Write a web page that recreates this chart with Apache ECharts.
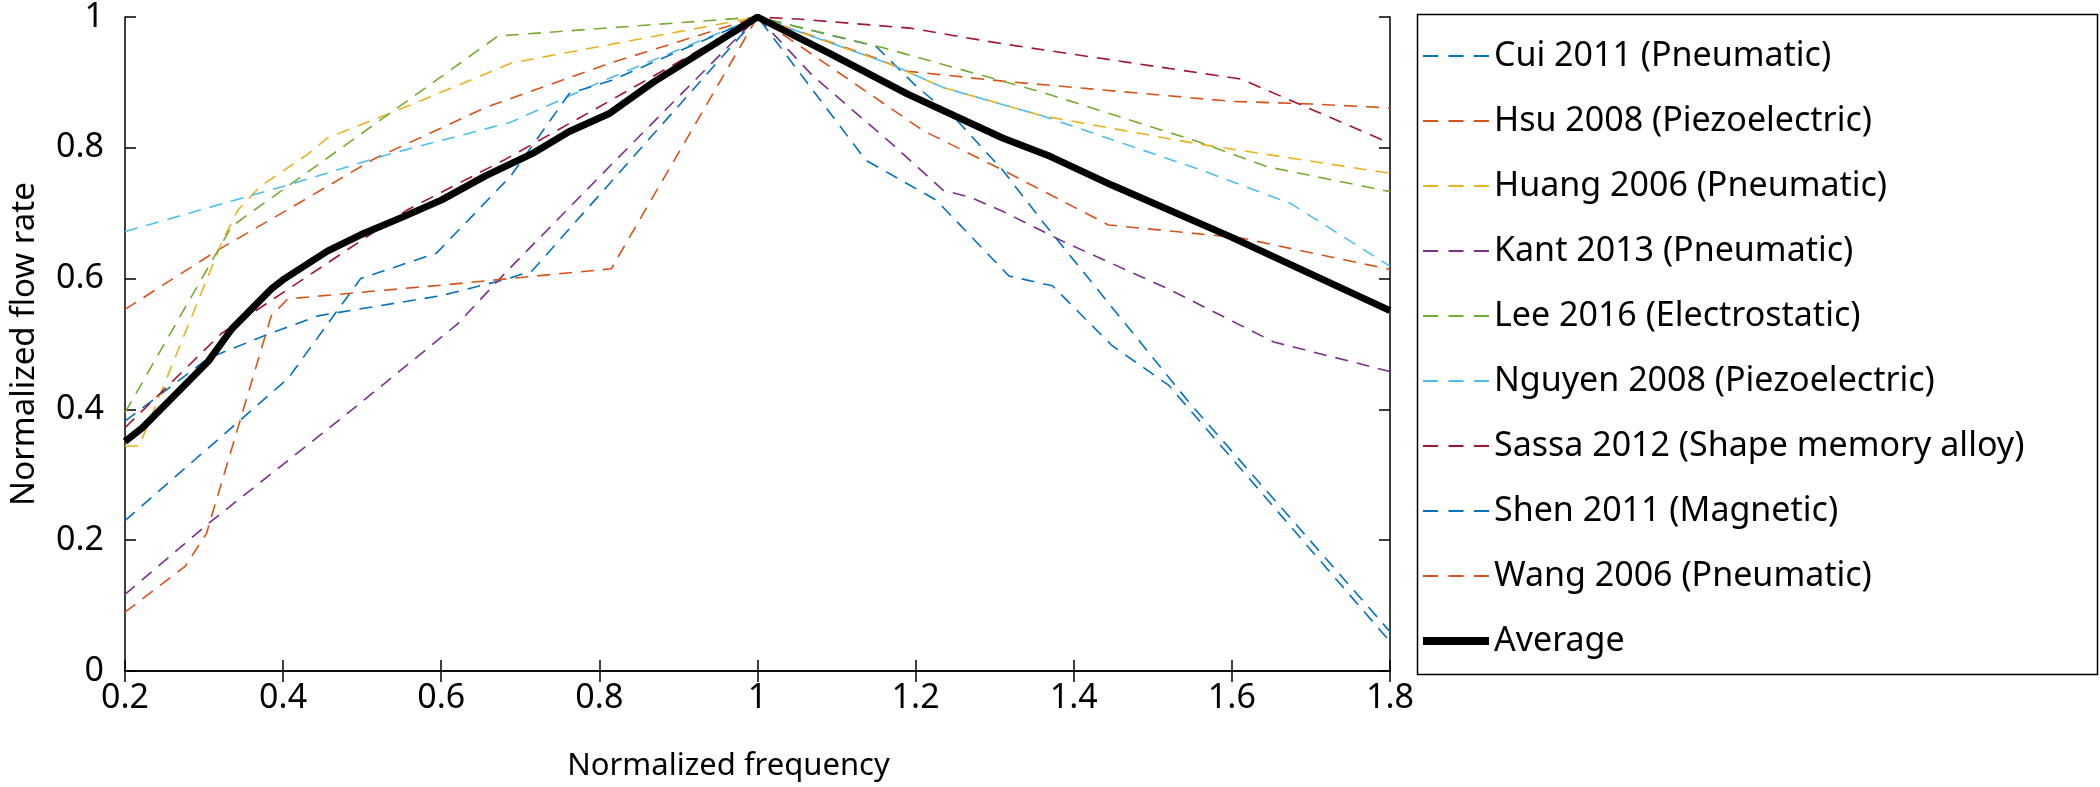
<!DOCTYPE html>
<html>
<head>
<meta charset="utf-8">
<script src="https://cdn.jsdelivr.net/npm/echarts@6/dist/echarts.min.js"></script>
<style>
html,body{margin:0;padding:0;background:#fff;}
#chart{width:2100px;height:787px;}
</style>
</head>
<body>
<div id="chart"></div>
<script>
// ---- Data ----
const seriesNames = [
  'Cui 2011 (Pneumatic)', 'Hsu 2008 (Piezoelectric)', 'Huang 2006 (Pneumatic)',
  'Kant 2013 (Pneumatic)', 'Lee 2016 (Electrostatic)', 'Nguyen 2008 (Piezoelectric)',
  'Sassa 2012 (Shape memory alloy)', 'Shen 2011 (Magnetic)', 'Wang 2006 (Pneumatic)', 'Average'
];
const cui = [[0.2,0.382],[0.305,0.478],[0.377,0.513],[0.444,0.543],[0.6,0.574],[0.682,0.599],[0.715,0.612],[1,1],
  [1.15,0.955],[1.2,0.895],[1.25,0.845],[1.31,0.766],[1.36,0.688],[1.545,0.412],[1.8,0.06]];
const hsu = [[0.2,0.553],[0.318,0.644],[0.408,0.707],[0.515,0.783],[0.657,0.862],[0.815,0.93],[1,1],
  [1.15,0.937],[1.19,0.917],[1.31,0.902],[1.6,0.871],[1.7,0.867],[1.8,0.861]];
const huang = [[0.2,0.344],[0.218,0.344],[0.324,0.66],[0.343,0.705],[0.371,0.741],[0.431,0.79],[0.456,0.815],[0.55,0.86],[0.69,0.93],[1,1],
  [1.17,0.927],[1.235,0.892],[1.36,0.849],[1.557,0.806],[1.8,0.761]];
const kant = [[0.2,0.117],[0.305,0.225],[0.493,0.405],[0.62,0.53],[0.682,0.61],[0.815,0.774],[1,1],
  [1.07,0.91],[1.17,0.806],[1.235,0.735],[1.27,0.724],[1.31,0.703],[1.386,0.657],[1.52,0.584],[1.653,0.503],[1.8,0.458]];
const lee = [[0.2,0.395],[0.335,0.68],[0.672,0.971],[1,1],
  [1.159,0.953],[1.36,0.885],[1.553,0.811],[1.645,0.771],[1.8,0.733]];
const nguyen = [[0.2,0.672],[0.406,0.743],[0.536,0.791],[0.688,0.839],[0.8,0.9],[1,1],
  [1.17,0.927],[1.235,0.892],[1.36,0.849],[1.561,0.766],[1.674,0.715],[1.8,0.619]];
const sassa = [[0.2,0.372],[0.322,0.516],[0.557,0.705],[0.682,0.783],[0.815,0.873],[1,1],
  [1.05,0.997],[1.193,0.983],[1.31,0.959],[1.612,0.905],[1.8,0.807]];
const shen = [[0.2,0.23],[0.406,0.447],[0.498,0.6],[0.594,0.639],[0.688,0.757],[0.762,0.883],[0.815,0.903],[1,1],
  [1.137,0.781],[1.226,0.72],[1.318,0.604],[1.373,0.589],[1.448,0.498],[1.52,0.437],[1.8,0.045]];
const wang = [[0.2,0.09],[0.276,0.16],[0.303,0.21],[0.385,0.543],[0.406,0.569],[0.6,0.59],[0.815,0.615],[1,1],
  [1.21,0.826],[1.31,0.766],[1.444,0.682],[1.612,0.662],[1.8,0.614]];
const average = [[0.2,0.351],[0.222,0.372],[0.305,0.473],[0.335,0.523],[0.385,0.584],[0.402,0.6],[0.456,0.642],[0.498,0.667],
  [0.551,0.694],[0.6,0.72],[0.656,0.757],[0.715,0.791],[0.762,0.825],[0.812,0.852],[0.868,0.9],[1,1],
  [1.09,0.945],[1.19,0.882],[1.31,0.815],[1.37,0.787],[1.448,0.743],[1.6,0.663],[1.8,0.551]];
const seriesData = [cui, hsu, huang, kant, lee, nguyen, sassa, shen, wang, average];
const colors = ['#0072BD','#D95319','#EDB120','#7E2F8E','#77AC30','#4DBEEE','#A2142F','#0072BD','#D95319','#000000'];
const xTitle = 'Normalized frequency';
const yTitle = 'Normalized flow rate';

// ---- Chart ----
const FONT = 'Noto Sans';
const chart = echarts.init(document.getElementById('chart'), null, {renderer:'canvas'});
const fmt = v => String(+v.toFixed(1));
const axisLineStyle = {lineStyle:{color:'#000', width:1.5}};
const tickStyle = {show:true, inside:true, length:11, lineStyle:{color:'#000', width:1.5}};
const DASH_ICON = 'path://M0,0h15v2h-15z M25.5,0h15v2h-15z M51,0h15v2h-15z';
const SOLID_ICON = 'path://M0,0h66v8h-66z';

const series = seriesData.map((d, i) => {
  const avg = seriesNames[i] === 'Average';
  return {
    name: seriesNames[i],
    type: 'line',
    data: d,
    showSymbol: false,
    symbol: 'none',
    smooth: false,
    silent: true,
    z: avg ? 10 : 2,
    lineStyle: avg ? {color:'#000', width:7, type:'solid'} : {color: colors[i], width:1.6, type:[13,9]},
    itemStyle: {color: colors[i]}
  };
});

chart.setOption({
  animation: false,
  backgroundColor: '#fff',
  grid: {left:116, right:710, top:12, bottom:115},
  xAxis: [
    {type:'value', min:0.2, max:1.8, interval:0.2, position:'bottom',
     axisLine:axisLineStyle, axisTick:tickStyle, splitLine:{show:false},
     axisLabel:{formatter:fmt, fontFamily:FONT, fontSize:34, color:'#000', margin:10},
     name:xTitle, nameLocation:'middle', nameGap:80,
     nameTextStyle:{fontFamily:FONT, fontSize:31, color:'#000', padding:[0,58,0,0]}},
    {type:'value', min:0.2, max:1.8, interval:0.2, position:'top',
     axisLine:axisLineStyle, axisTick:tickStyle, splitLine:{show:false}, axisLabel:{show:false}}
  ],
  yAxis: [
    {type:'value', min:0, max:1, interval:0.2, position:'left',
     axisLine:{show:true, lineStyle:{color:'#000', width:1.5}}, axisTick:tickStyle, splitLine:{show:false},
     axisLabel:{formatter:fmt, fontFamily:FONT, fontSize:34, color:'#000', margin:21},
     name:yTitle, nameLocation:'middle', nameGap:84, nameRotate:90,
     nameTextStyle:{fontFamily:FONT, fontSize:33, color:'#000'}},
    {type:'value', min:0, max:1, interval:0.2, position:'right',
     axisLine:{show:true, lineStyle:{color:'#000', width:1.5}}, axisTick:tickStyle, splitLine:{show:false}, axisLabel:{show:false}}
  ],
  legend: {
    orient:'vertical', left:1418, top:34,
    itemWidth:66, itemHeight:14, itemGap:31,
    symbolKeepAspect:true,
    textStyle:{fontFamily:FONT, fontSize:34, color:'#000', lineHeight:34},
    data: seriesNames.map(n => ({name:n, icon: n === 'Average' ? SOLID_ICON : DASH_ICON})),
    selectedMode:false
  },
  graphic: [
    {type:'rect', left:1415, top:12, shape:{width:680, height:660},
     style:{fill:'none', stroke:'#000', lineWidth:1.5}, silent:true}
  ],
  series: series
});
</script>
</body>
</html>
